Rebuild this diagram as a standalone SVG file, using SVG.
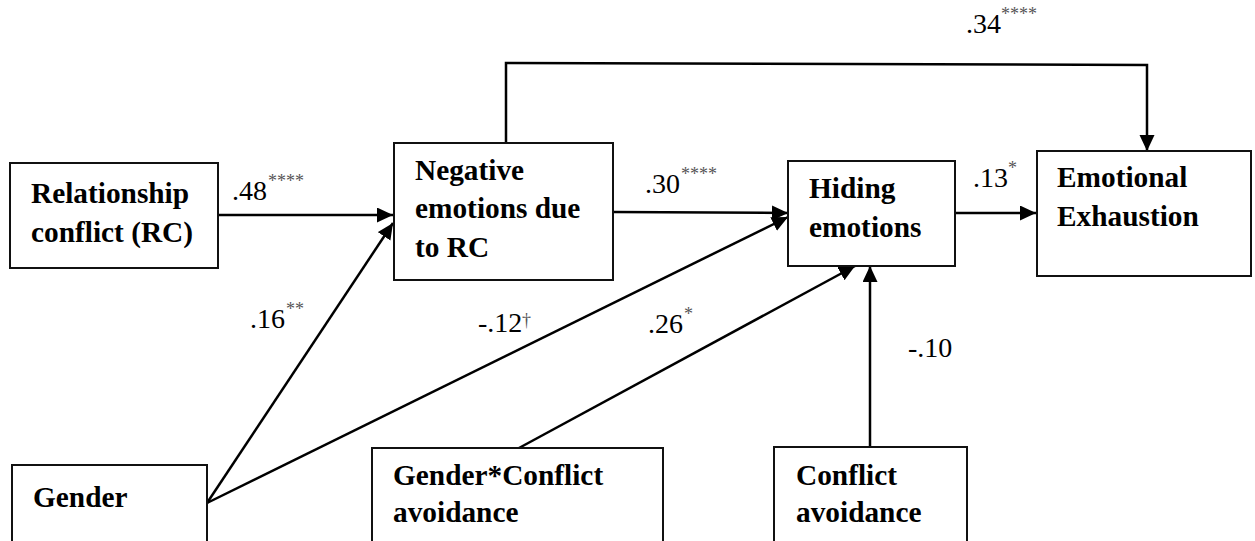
<svg xmlns="http://www.w3.org/2000/svg" width="1255" height="541" viewBox="0 0 1255 541">
<style>
  .box { fill: #fff; stroke: #111; stroke-width: 2; }
  .node { font-family: 'Liberation Serif', 'DejaVu Serif', serif; font-weight: bold; font-size: 29.33px; fill: #000; }
  .lbl { font-family: 'Liberation Serif', 'DejaVu Serif', serif; font-size: 28px; fill: #000; }
  .sup { font-family: 'Liberation Serif', 'DejaVu Serif', serif; font-size: 18px; fill: #555; }
  .conn { fill: none; stroke: #000; stroke-width: 2.5; }
  .arr { marker-end: url(#ah); }
</style>
<defs>
  <marker id="ah" markerUnits="userSpaceOnUse" markerWidth="17" markerHeight="16" refX="16" refY="7.5" orient="auto">
    <path d="M0,0 L16,7.5 L0,15 z" fill="#000"/>
  </marker>
</defs>
<rect width="1255" height="541" fill="#fff"/>
<g id="connectors">
  <path class="conn arr" d="M218,215 H393"/>
  <path class="conn arr" d="M613,212 L788,213"/>
  <path class="conn arr" d="M955,213 H1036"/>
  <path class="conn arr" d="M506,142 V63 L1147,65 V151"/>
  <path class="conn arr" d="M207,503 L393,223"/>
  <path class="conn arr" d="M207,503 L788,217"/>
  <path class="conn arr" d="M519,448 L855,266"/>
  <path class="conn arr" d="M870,447 V266"/>
</g>
<g id="labels">
  <text class="lbl" x="232" y="200">.48</text><text class="sup" x="268" y="187">****</text>
  <text class="lbl" x="645" y="193">.30</text><text class="sup" x="681" y="180">****</text>
  <text class="lbl" x="966" y="33">.34</text><text class="sup" x="1001" y="20">****</text>
  <text class="lbl" x="973" y="187">.13</text><text class="sup" x="1008" y="174">*</text>
  <text class="lbl" x="250" y="328">.16</text><text class="sup" x="286" y="315">**</text>
  <text class="lbl" x="478" y="332">-.12</text><text class="sup" x="522" y="326">†</text>
  <text class="lbl" x="648" y="333">.26</text><text class="sup" x="684" y="320">*</text>
  <text class="lbl" x="908" y="357">-.10</text>
</g>
<g id="node-rc">
  <rect class="box" x="10" y="163" width="208" height="105"/>
  <text class="node" x="31" y="203">Relationship</text>
  <text class="node" x="31" y="242">conflict (RC)</text>
</g>
<g id="node-neg">
  <rect class="box" x="394" y="143" width="219" height="137"/>
  <text class="node" x="415" y="180">Negative</text>
  <text class="node" x="415" y="218">emotions due</text>
  <text class="node" x="415" y="257">to RC</text>
</g>
<g id="node-hiding">
  <rect class="box" x="788" y="161" width="167" height="105"/>
  <text class="node" x="809" y="198">Hiding</text>
  <text class="node" x="809" y="237">emotions</text>
</g>
<g id="node-ee">
  <rect class="box" x="1037" y="151" width="214" height="125"/>
  <text class="node" x="1057" y="187">Emotional</text>
  <text class="node" x="1057" y="226">Exhaustion</text>
</g>
<g id="node-gender">
  <rect class="box" x="12" y="465" width="195" height="100"/>
  <text class="node" x="33" y="507">Gender</text>
</g>
<g id="node-gca">
  <rect class="box" x="372" y="448" width="291" height="100"/>
  <text class="node" x="393" y="485">Gender*Conflict</text>
  <text class="node" x="393" y="522">avoidance</text>
</g>
<g id="node-ca">
  <rect class="box" x="774" y="447" width="193" height="100"/>
  <text class="node" x="796" y="485">Conflict</text>
  <text class="node" x="796" y="522">avoidance</text>
</g>
</svg>
